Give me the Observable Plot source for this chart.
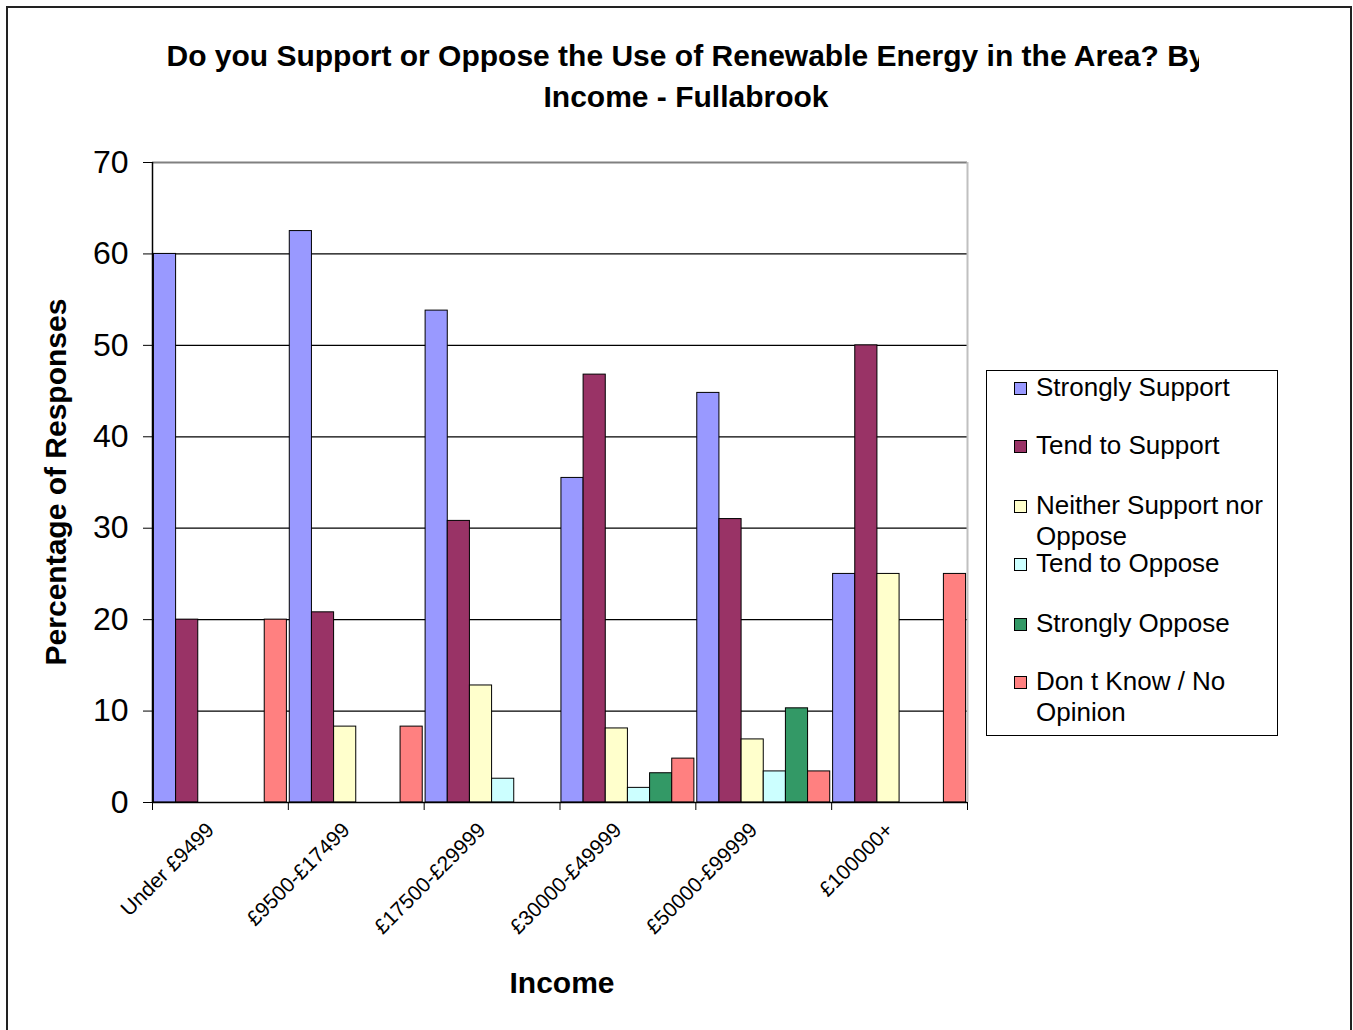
<!DOCTYPE html>
<html>
<head>
<meta charset="utf-8">
<script src="https://cdn.jsdelivr.net/npm/d3@7"></script>
<script src="https://cdn.jsdelivr.net/npm/@observablehq/plot@0.6"></script>
<style>
  html, body { margin: 0; padding: 0; background: #fff; }
  body { width: 1353px; height: 1030px; position: relative; overflow: hidden; font-family: "Liberation Sans", Arial, sans-serif; }
  #border { position: absolute; left: 6px; top: 6px; width: 1346px; height: 1100px; border: 2px solid #222; box-sizing: border-box; }
  #chart { position: absolute; left: 0; top: 0; }
  #titleclip { position: absolute; left: 0; top: 35px; width: 1199px; overflow: hidden; }
  #title { width: 1372px; text-align: center; font-weight: bold; font-size: 30px; line-height: 41px; color: #000; white-space: nowrap; }
  #ylabel { position: absolute; left: 56px; top: 482px; transform: translate(-50%, -50%) rotate(-90deg); font-weight: bold; font-size: 30px; white-space: nowrap; }
  #xlabel { position: absolute; left: 562px; top: 983px; transform: translate(-50%, -50%); font-weight: bold; font-size: 30px; white-space: nowrap; }
  #legend { position: absolute; left: 986px; top: 370px; width: 292px; height: 366px; border: 1px solid #000; box-sizing: border-box; }
  .item { position: absolute; left: 27px; font-size: 26px; line-height: 31px; color: #000; }
  .sw { position: absolute; left: 0; top: 10px; width: 11px; height: 11px; border: 1px solid #000; }
  .lbl { position: absolute; left: 22px; top: 0; white-space: nowrap; }
</style>
</head>
<body>
<div id="border"></div>
<div id="chart"></div>
<div id="titleclip"><div id="title"></div></div>
<div id="ylabel"></div>
<div id="xlabel"></div>
<div id="legend"></div>
<script>
// ---- data ----
const titleLines = ["Do you Support or Oppose the Use of Renewable Energy in the Area? By", "Income - Fullabrook"];
const yTitle = "Percentage of Responses";
const xTitle = "Income";
const groups = ["Under £9499", "£9500-£17499", "£17500-£29999", "£30000-£49999", "£50000-£99999", "£100000+"];
const series = ["Strongly Support", "Tend to Support", "Neither Support nor Oppose", "Tend to Oppose", "Strongly Oppose", "Don t Know / No Opinion"];
const legendLines = [["Strongly Support"], ["Tend to Support"], ["Neither Support nor", "Oppose"], ["Tend to Oppose"], ["Strongly Oppose"], ["Don t Know / No", "Opinion"]];
const colors = ["#9999FF", "#993366", "#FFFFCC", "#CCFFFF", "#339966", "#FF8080"];
const stronglySupport = [60, 62.5, 53.8, 35.5, 44.8, 25];
const tendToSupport   = [20, 20.8, 30.8, 46.8, 31.0, 50];
const neither         = [0, 8.3, 12.8, 8.1, 6.9, 25];
const tendToOppose    = [0, 0, 2.6, 1.6, 3.4, 0];
const stronglyOppose  = [0, 0, 0, 3.2, 10.3, 0];
const dontKnow        = [20, 8.3, 0, 4.8, 3.4, 25];
const yTicks = [0, 10, 20, 30, 40, 50, 60, 70];

const values = [stronglySupport, tendToSupport, neither, tendToOppose, stronglyOppose, dontKnow];

// ---- build ----
const rows = [];
groups.forEach((g, gi) => series.forEach((s, si) => {
  const v = values[si][gi];
  if (v > 0) rows.push({g, gi, s, v});
}));
const inner = d3.scaleBand().domain(series).range([0, 1]).paddingInner(0).paddingOuter(0.065);
const boundaries = d3.range(groups.length + 1);
const centers = groups.map((g, i) => i + 0.5);

const plot = Plot.plot({
  width: 1353,
  height: 1030,
  marginLeft: 152,
  marginRight: 386,
  marginTop: 162,
  marginBottom: 228,
  style: {fontFamily: "'Liberation Sans', Arial, sans-serif", background: "transparent", color: "#000"},
  x: {domain: [0, groups.length], axis: null},
  y: {domain: [0, 70], axis: null},
  color: {domain: series, range: colors},
  marks: [
    Plot.ruleY(yTicks.filter(d => d > 0 && d < 70), {stroke: "#000", strokeWidth: 1.2}),
    Plot.ruleY([70], {stroke: "#808080", strokeWidth: 2}),
    Plot.ruleX([groups.length], {stroke: "#c0c0c0", strokeWidth: 2}),
    Plot.rectY(rows, {
      x1: d => d.gi + inner(d.s),
      x2: d => d.gi + inner(d.s) + inner.bandwidth(),
      y: "v",
      fill: "s",
      stroke: "#000",
      strokeWidth: 1
    }),
    Plot.ruleX([0], {stroke: "#000", strokeWidth: 1.5}),
    Plot.ruleY([0], {stroke: "#000", strokeWidth: 1.5}),
    Plot.axisY({ticks: yTicks, tickSize: 9, tickPadding: 15, fontSize: 32, stroke: "#000", strokeOpacity: 1, label: null}),
    Plot.axisX({ticks: boundaries, tickSize: 8, tickFormat: () => "", stroke: "#000", strokeOpacity: 1, label: null}),
    Plot.axisX({ticks: centers, tickSize: 0, tickPadding: 24, tickRotate: -45, fontSize: 21, dx: -10, label: null,
      tickFormat: d => groups[Math.floor(d)]})
  ]
});
document.getElementById("chart").appendChild(plot);

document.getElementById("title").innerHTML = titleLines.join("<br>");
document.getElementById("ylabel").textContent = yTitle;
document.getElementById("xlabel").textContent = xTitle;

const legendTops = [1, 59, 119, 177, 237, 295];
const legend = document.getElementById("legend");
series.forEach((s, i) => {
  const item = document.createElement("div");
  item.className = "item";
  item.style.top = legendTops[i] + "px";
  const sw = document.createElement("div");
  sw.className = "sw";
  sw.style.background = colors[i];
  const lbl = document.createElement("div");
  lbl.className = "lbl";
  lbl.innerHTML = legendLines[i].join("<br>");
  item.appendChild(sw);
  item.appendChild(lbl);
  legend.appendChild(item);
});
</script>
</body>
</html>
